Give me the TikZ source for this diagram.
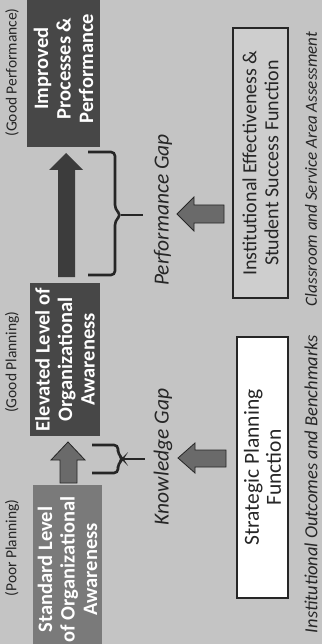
\documentclass[tikz,border=0pt]{standalone}
\usepackage{fontspec}
\setmainfont{Carlito}
\definecolor{bgc}{HTML}{C4C4C4}
\definecolor{darkbox}{HTML}{474747}
\definecolor{midbox}{HTML}{7A7A7A}
\definecolor{arrowc}{HTML}{6A6A6A}
\definecolor{inkc}{HTML}{262626}
\definecolor{instc}{HTML}{CECECE}
\tikzset{
  lbl/.style={rotate=90, inner sep=0pt, text=inkc, font=\fontsize{15.5}{17}\selectfont},
  gaplbl/.style={rotate=90, inner sep=0pt, text=inkc, font=\fontsize{21.5}{23}\selectfont\itshape},
  srclbl/.style={rotate=90, inner sep=0pt, text=inkc, font=\fontsize{17}{19}\selectfont\itshape},
  stagebox/.style={rotate=90, draw=none, inner sep=0pt, text=white, align=center,
     font=\fontsize{20.5}{22.5}\selectfont\bfseries},
  funcbox/.style={rotate=90, draw=inkc, line width=1.5pt, inner sep=0pt, text=inkc, align=center,
     font=\fontsize{20}{22}\selectfont},
  blockarrow/.style={draw=inkc, line width=0.8pt, fill=arrowc, line join=miter},
  bracket/.style={draw=inkc, line width=2.6pt, rounded corners=4pt, line cap=butt}
}
\begin{document}
\begin{tikzpicture}[x=1pt,y=-1pt]
\useasboundingbox (0,0) rectangle (322,644);
\fill[bgc] (0,0) rectangle (322,644);

% stage boxes
\node[stagebox, fill=darkbox, minimum width=157pt, minimum height=73pt] (improved) at (63.5,68.5)
  {Improved\\Processes \&\\Performance};
\node[stagebox, fill=darkbox, minimum width=153pt, minimum height=70pt] (elevated) at (65,359.5)
  {Elevated Level of\\Organizational\\Awareness};
\node[stagebox, fill=midbox, minimum width=169pt, minimum height=69pt] (standard) at (67.5,569.5)
  {Standard Level\\of Organizational\\Awareness};

% stage labels
\node[lbl] (goodperf) at (12,72.5) {(Good Performance)};
\node[lbl] (goodplan) at (12,362) {(Good Planning)};
\node[lbl] (poorplan) at (12,548) {(Poor Planning)};

% function boxes
\node[funcbox, fill=instc, minimum width=270pt, minimum height=55pt] (inst) at (260.5,163)
  {Institutional Effectiveness \&\\Student Success Function};
\node[funcbox, fill=white, minimum width=261pt, minimum height=51pt,
      font=\fontsize{21.5}{22}\selectfont] (strat) at (262.5,467.5)
  {Strategic Planning\\Function};

% source labels
\node[srclbl] (classroom) at (311,169) {Classroom and Service Area Assessment};
\node[srclbl, font=\fontsize{18.5}{20}\selectfont\itshape] (outcomes) at (311,484) {Institutional Outcomes and Benchmarks};

% gap labels
\node[gaplbl] (perfgap) at (163,210) {Performance Gap};
\node[gaplbl] (knowgap) at (163,457) {Knowledge Gap};

% long arrow elevated -> improved
\coordinate (longtip) at (66,153);
\fill[inkc!90] (longtip) -- (83,170) -- (75,170) -- (75,277) -- (58,277) -- (58,170) -- (49,170) -- cycle;

% short arrow standard -> elevated
\coordinate (uptip) at (68,442);
\draw[blockarrow] (uptip) -- (85,460) -- (77,460) -- (77,483) -- (60,483) -- (60,460) -- (51,460) -- cycle;

% arrow inst -> performance gap
\coordinate (ptip) at (177,214);
\draw[blockarrow] (ptip) -- (194,197) -- (194,205) -- (224,205) -- (224,223) -- (194,223) -- (194,231) -- cycle;

% arrow strat -> knowledge gap
\coordinate (ktip) at (178,458);
\draw[blockarrow] (ktip) -- (195,443) -- (195,450) -- (226,450) -- (226,467) -- (195,467) -- (195,473) -- cycle;

% brackets
\coordinate (pb) at (121,215);
\draw[bracket] (88,152) -- (115,152) -- (115,209) -- (pb) -- (115,221) -- (115,275) -- (88,275);
\draw[inkc, line width=2.6pt] (pb) -- (143,215);

\coordinate (kb) at (123,459);
\draw[bracket] (92,445) -- (118,445) -- (118,454) -- (kb) -- (118,464) -- (118,473) -- (92,473);
\draw[inkc, line width=2.6pt] (kb) -- (145,459);
\end{tikzpicture}
\end{document}
